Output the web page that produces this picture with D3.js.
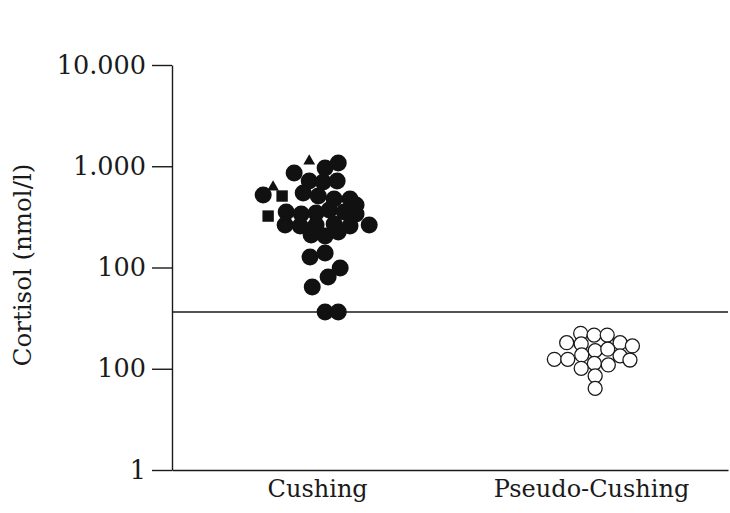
<!DOCTYPE html>
<html><head><meta charset="utf-8">
<script src="https://cdn.jsdelivr.net/npm/d3@7"></script>
<style>html,body{margin:0;padding:0;background:#fff;}</style>
</head><body>
<svg id="chart" width="730" height="513"></svg>
<script>
// Categories and axis labels
const categories = ["Cushing", "Pseudo-Cushing"];
const yTickValues = [1, 10, 100, 1000, 10000];
const yTickLabels = ["1", "100", "100", "1.000", "10.000"]; // as printed in the original
const yTitle = "Cortisol (nmol/l)";
const cutoff = 36.3;

// Cushing group: cortisol values (nmol/l) and horizontal jitter (category units)
const cushingCircleValues = [857, 961, 1077, 715, 699, 715, 520, 544, 508, 475, 475, 414,
  353, 338, 345, 370, 353, 338, 263, 257, 257, 263, 209, 205, 224, 127, 139,
  98.9, 80.5, 64.2, 36.3, 36.3, 263, 269];
const cushingCircleJitter = [-0.084, 0.029, 0.077, -0.029, 0.022, 0.073, -0.197, -0.051, 0.004, 0.062, 0.120, 0.142,
  -0.113, -0.058, -0.004, 0.044, 0.099, 0.142, -0.117, -0.062, 0.120, 0.190, -0.022, 0.029, 0.077, -0.026, 0.029,
  0.084, 0.040, -0.018, 0.029, 0.077, -0.004, 0.062];
const cushingTriangleValues = [1127, 624];
const cushingTriangleJitter = [-0.029, -0.161];
const cushingSquareValues = [508, 322];
const cushingSquareJitter = [-0.128, -0.179];

// Pseudo-Cushing group
const pseudoValues = [22.4, 21.5, 21.5, 18.1, 17.6, 18.1, 16.8, 15.1, 15.6, 13.7, 12.4, 12.4, 13.4, 12.2,
  11.3, 10.9, 10.1, 8.5, 6.4];
const pseudoJitter = [-0.038, 0.011, 0.059, -0.089, -0.036, 0.106, 0.151, 0.015, 0.061, -0.034, -0.134, -0.085,
  0.106, 0.142, 0.012, 0.063, -0.036, 0.015, 0.015];

const svg = d3.select("#chart");
const ink = "#1a1a1a";
const font = "DejaVu Serif, Liberation Serif, serif";

const x = d3.scaleLinear().domain([0.47, 2.5]).range([172, 728]);
const y = d3.scaleLog().domain([1, 10000]).range([470, 65]);

// Y axis
const yAxis = svg.append("g").attr("transform", "translate(172,0)")
  .call(d3.axisLeft(y).tickValues(yTickValues).tickSize(20).tickSizeOuter(0).tickPadding(6)
    .tickFormat((d, i) => yTickLabels[i]));
yAxis.select(".domain").attr("stroke", ink).attr("stroke-width", 1.4);
yAxis.selectAll(".tick line").attr("stroke", ink).attr("stroke-width", 1.4);
yAxis.selectAll(".tick text").attr("fill", ink).style("font-family", font).style("font-size", "25.5px");

// X axis
const xAxis = svg.append("g").attr("transform", "translate(0,470)")
  .call(d3.axisBottom(x).tickValues([1, 2]).tickSize(0).tickSizeOuter(0).tickPadding(10)
    .tickFormat(d => categories[d - 1]));
xAxis.select(".domain").attr("stroke", ink).attr("stroke-width", 1.4);
xAxis.selectAll(".tick text").attr("fill", ink).style("font-family", font).style("font-size", "24px");

// Y title
svg.append("text")
  .attr("transform", "translate(31,265) rotate(-90)")
  .attr("text-anchor", "middle")
  .attr("fill", ink)
  .style("font-family", font).style("font-size", "24.5px")
  .text(yTitle);

// Cutoff line
svg.append("line")
  .attr("x1", x(0.47)).attr("x2", x(2.5))
  .attr("y1", y(cutoff)).attr("y2", y(cutoff))
  .attr("stroke", ink).attr("stroke-width", 1.4);

// Cushing circles
const cush = cushingCircleValues.map((v, i) => ({ v, j: cushingCircleJitter[i] }));
svg.append("g").selectAll("circle").data(cush).join("circle")
  .attr("cx", d => x(1 + d.j)).attr("cy", d => y(d.v)).attr("r", 8.5)
  .attr("fill", "#111");

// Cushing squares
svg.append("g").selectAll("path").data(cushingSquareValues.map((v, i) => ({ v, j: cushingSquareJitter[i] })))
  .join("path")
  .attr("d", d3.symbol(d3.symbolSquare, 130))
  .attr("transform", d => `translate(${x(1 + d.j)},${y(d.v)})`)
  .attr("fill", "#111");

// Cushing triangles
svg.append("g").selectAll("path").data(cushingTriangleValues.map((v, i) => ({ v, j: cushingTriangleJitter[i] })))
  .join("path")
  .attr("d", d3.symbol(d3.symbolTriangle, 60))
  .attr("transform", d => `translate(${x(1 + d.j)},${y(d.v)})`)
  .attr("fill", "#111");

// Pseudo-Cushing open circles
svg.append("g").selectAll("circle").data(pseudoValues.map((v, i) => ({ v, j: pseudoJitter[i] })))
  .join("circle")
  .attr("cx", d => x(2 + d.j)).attr("cy", d => y(d.v)).attr("r", 7)
  .attr("fill", "#fff").attr("stroke", ink).attr("stroke-width", 1.3);
</script>
</body></html>
